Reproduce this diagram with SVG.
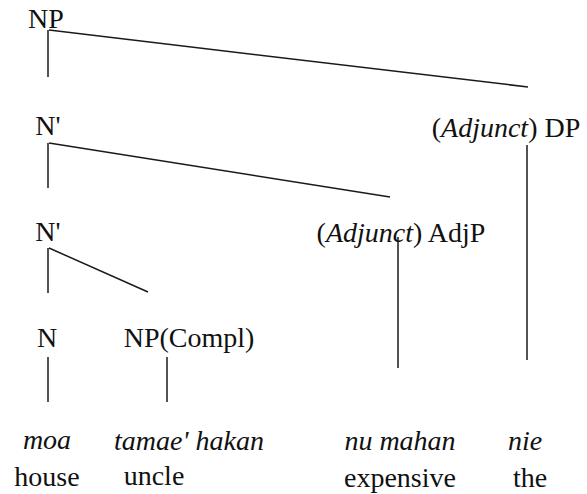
<svg xmlns="http://www.w3.org/2000/svg" width="587" height="494" viewBox="0 0 587 494">
<style>
text{font-family:'Liberation Serif',Tinos,'DejaVu Serif','Times New Roman',serif;font-size:28px;fill:#111;text-anchor:middle}
.i{font-style:italic}
line{stroke:#1a1a1a;stroke-width:1.5;fill:none}
</style>
<rect width="587" height="494" fill="#fff"/>
<g id="connectors">
<line x1="48" y1="30" x2="48" y2="77"/>
<line x1="49" y1="30" x2="528" y2="87"/>
<line x1="48" y1="143" x2="48" y2="188"/>
<line x1="49" y1="143" x2="390" y2="197"/>
<line x1="48" y1="248" x2="48" y2="293"/>
<line x1="49" y1="248" x2="148" y2="292"/>
<line x1="527" y1="145" x2="527" y2="360"/>
<line x1="398" y1="237" x2="398" y2="368"/>
<line x1="48" y1="357" x2="48" y2="402"/>
<line x1="167" y1="357" x2="167" y2="402"/>
</g>
<g id="np"><text x="46" y="28">NP</text></g>
<g id="nbar1"><text x="48" y="135">N'</text></g>
<g id="dp"><text x="506" y="137">(<tspan class="i">Adjunct</tspan>) DP</text></g>
<g id="nbar2"><text x="48" y="241">N'</text></g>
<g id="adjp"><text x="401" y="242">(<tspan class="i">Adjunct</tspan>) AdjP</text></g>
<g id="n"><text x="47" y="347">N</text></g>
<g id="npcompl"><text x="189" y="347">NP(Compl)</text></g>
<g id="w-moa"><text class="i" x="47" y="449">moa</text><text x="47" y="486">house</text></g>
<g id="w-tamae"><text class="i" x="189" y="450">tamae' hakan</text><text x="154" y="485">uncle</text></g>
<g id="w-numahan"><text class="i" x="400" y="450">nu mahan</text><text x="400" y="487">expensive</text></g>
<g id="w-nie"><text class="i" x="525" y="450">nie</text><text x="530" y="487">the</text></g>
</svg>
